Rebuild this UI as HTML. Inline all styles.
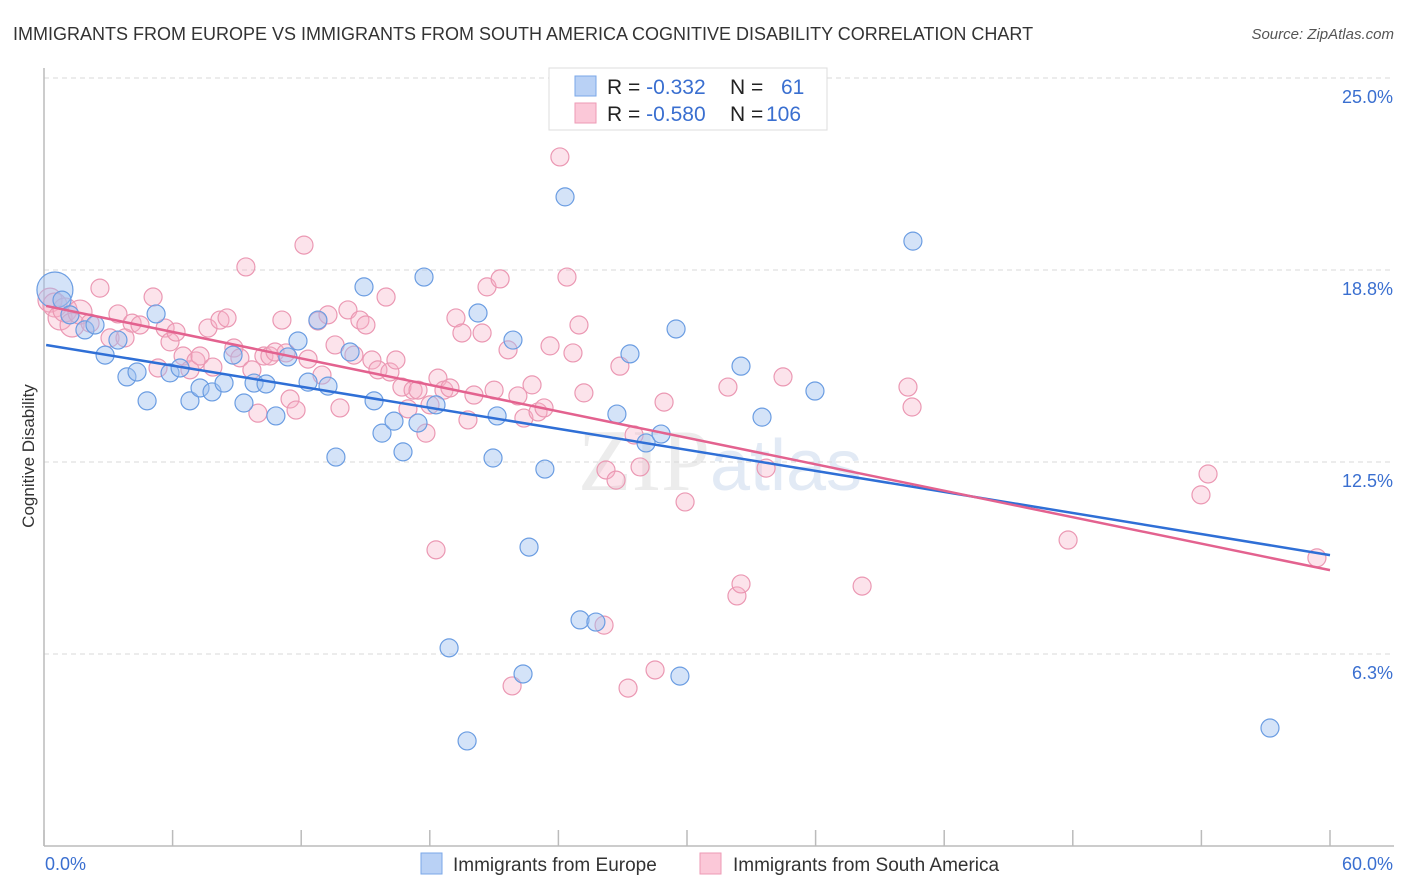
<!DOCTYPE html>
<html><head><meta charset="utf-8"><style>
body{margin:0;background:#fff;font-family:"Liberation Sans",sans-serif;}
svg{display:block}
</style></head><body>
<svg id="chart" width="1406" height="892" xmlns="http://www.w3.org/2000/svg">
<text x="13" y="40" font-size="18" fill="#333">IMMIGRANTS FROM EUROPE VS IMMIGRANTS FROM SOUTH AMERICA COGNITIVE DISABILITY CORRELATION CHART</text>
<text x="1394" y="39" font-size="15" fill="#555" text-anchor="end" font-style="italic">Source: ZipAtlas.com</text>
<text transform="translate(34,456) rotate(-90)" font-size="17" fill="#333" text-anchor="middle">Cognitive Disability</text>
<text x="720" y="490" font-size="88" text-anchor="middle" fill="#ececec" font-family="Liberation Serif, serif">ZIP<tspan fill="#e2eaf5" font-family="Liberation Sans, sans-serif" font-size="72">atlas</tspan></text>
<g id="grid"></g><g id="axes"></g><g id="pts"></g><g id="lines"></g>
<g>
<rect x="549" y="68" width="278" height="62" fill="#fff" stroke="#ddd"/>
<rect x="575" y="76" width="21" height="20" fill="#b9d1f5" stroke="#7aa7e8"/>
<rect x="575" y="103" width="21" height="20" fill="#fbc8d8" stroke="#ee9ab5"/>
<text x="607" y="94" font-size="21" fill="#222">R = <tspan fill="#3a6fd0">-0.332</tspan><tspan x="730">N =</tspan><tspan x="781" fill="#3a6fd0">61</tspan></text>
<text x="607" y="121" font-size="21" fill="#222">R = <tspan fill="#3a6fd0">-0.580</tspan><tspan x="730">N =</tspan><tspan x="766" fill="#3a6fd0">106</tspan></text>
</g>
<g>
<rect x="421" y="853" width="21" height="21" fill="#b9d1f5" stroke="#7aa7e8"/>
<text x="453" y="871" font-size="19" fill="#333">Immigrants from Europe</text>
<rect x="700" y="853" width="21" height="21" fill="#fbc8d8" stroke="#ee9ab5"/>
<text x="733" y="871" font-size="19" fill="#333">Immigrants from South America</text>
</g>
</svg>
<script>
const yTicks=[6.25,12.5,18.75,25];
const yTickLabels=["6.3%","12.5%","18.8%","25.0%"];
const xTickValues=[0,6,12,18,24,30,36,42,48,54,60];
const blueX=[0.51,0.84,1.21,1.91,2.38,2.85,3.45,3.87,4.34,4.81,5.23,5.88,6.35,6.81,7.28,7.84,8.40,8.82,9.33,9.80,10.36,10.82,11.38,11.85,12.32,12.78,13.25,13.62,14.28,14.93,15.40,15.77,16.33,16.75,17.45,17.73,18.29,18.90,19.74,20.25,20.95,21.14,21.88,22.35,22.63,23.37,24.31,25.01,25.75,26.73,27.34,28.09,28.79,29.49,29.67,31.17,32.52,33.50,35.97,40.54,57.20];
const blueY=[18.10,17.77,17.29,16.80,16.96,15.98,16.47,15.27,15.43,14.49,17.32,15.40,15.56,14.49,14.91,14.78,15.07,15.98,14.42,15.07,15.04,14.00,15.92,16.44,15.10,17.12,14.97,12.66,16.08,18.20,14.49,13.44,13.83,12.83,13.77,18.52,14.36,6.45,3.42,17.35,12.63,14.00,16.47,5.60,9.73,12.27,21.13,7.36,7.29,14.06,16.02,13.12,13.41,16.83,5.53,24.19,15.62,13.96,14.81,19.69,3.84];
const pinkX=[0.28,0.51,0.75,0.98,1.31,1.68,2.15,2.61,3.08,3.45,3.78,4.11,4.48,5.09,5.32,5.65,5.88,6.16,6.49,6.81,7.09,7.28,7.65,7.88,8.21,8.54,8.86,9.14,9.42,9.70,9.98,10.26,10.54,10.78,11.10,11.29,11.48,11.76,12.13,12.32,12.78,12.97,13.25,13.58,13.81,14.18,14.46,14.74,15.02,15.30,15.58,15.96,16.14,16.42,16.70,16.98,17.22,17.45,17.82,18.01,18.29,18.38,18.66,18.94,19.22,19.50,19.78,20.06,20.44,20.67,21.00,21.28,21.65,21.84,22.11,22.39,22.77,23.05,23.33,23.61,24.07,24.40,24.68,24.96,25.19,26.13,26.22,26.69,26.87,27.25,27.53,27.81,28.51,28.93,29.91,31.91,32.33,32.52,33.69,34.48,38.17,40.31,40.50,47.78,53.98,54.31,59.39];
const pinkY=[17.77,17.61,17.19,17.45,16.96,17.38,17.02,18.16,16.54,17.32,16.54,17.02,16.96,17.87,15.56,16.86,16.41,16.73,15.95,15.50,15.79,15.95,16.86,15.59,17.12,17.19,16.21,15.89,18.85,15.50,14.09,15.95,15.95,16.08,17.12,16.05,14.55,14.19,19.56,15.85,17.09,15.33,17.29,16.31,14.26,17.45,15.98,17.12,16.96,15.82,15.50,17.87,15.43,15.82,14.94,14.23,14.84,14.84,13.44,14.36,9.64,15.23,14.84,14.91,17.19,16.70,13.87,14.68,16.70,18.20,14.84,18.46,16.15,5.21,14.65,13.93,15.01,14.13,14.26,16.28,22.43,18.52,16.05,16.96,14.75,7.19,12.24,11.91,15.62,5.14,13.38,12.34,5.73,14.45,11.20,14.94,8.14,8.53,12.30,15.27,8.46,14.94,14.29,9.96,11.43,12.11,9.38];
const blueTrend=[16.31,9.47];
const pinkTrend=[17.58,8.98];
const NS="http://www.w3.org/2000/svg";
const X0=44,X1=1330,Y0=846,YTOP=78;
const sx=v=>X0+(v/60)*(X1-X0);
const sy=v=>Y0-(v/25)*(Y0-YTOP);
function mk(tag,attrs,parent){const e=document.createElementNS(NS,tag);for(const k in attrs)e.setAttribute(k,attrs[k]);parent.appendChild(e);return e;}
const grid=document.getElementById('grid'),axes=document.getElementById('axes'),pts=document.getElementById('pts'),lines=document.getElementById('lines');
yTicks.forEach((t,i)=>{
  const l=mk('line',{x1:X0,x2:1394,y1:sy(t),y2:sy(t),stroke:'#d8d8d8','stroke-dasharray':'5,4'},grid);
  
  
  const tx=mk('text',{x:1393,y:sy(t)+25,'font-size':18,fill:'#3a6fd0','text-anchor':'end'},grid);
  tx.textContent=yTickLabels[i];
  
  
});
let a=mk('line',{x1:X0,x2:X0,y1:68,y2:Y0,stroke:'#bbb','stroke-width':1.5},axes);


a=mk('line',{x1:X0,x2:1394,y1:Y0,y2:Y0,stroke:'#bbb','stroke-width':1.5},axes);


xTickValues.forEach(v=>{
  const t=mk('line',{x1:sx(v),x2:sx(v),y1:Y0-16,y2:Y0,stroke:'#bbb','stroke-width':1.5},axes);
  
  
});
[[0,'0.0%','start',45],[60,'60.0%','end',1393]].forEach(d=>{
  const t=mk('text',{x:d[3],y:870,'font-size':18,fill:'#3a6fd0','text-anchor':d[2]},axes);
  t.textContent=d[1];
  
  
});
function series(xs,ys,fill,stroke,name){
  xs.forEach((x,i)=>{
    let r=9;
    if(i===0&&name==='europe-point')r=18;
    else if(i<6&&name==='south-america-point')r=12;
    const c=mk('circle',{cx:sx(x),cy:sy(ys[i]),r:r,fill:fill,stroke:stroke,'stroke-width':1.2},pts);
    
    
  });
}
series(pinkX,pinkY,'rgba(246,176,198,0.35)','#eb98b3','south-america-point');
series(blueX,blueY,'rgba(160,192,240,0.45)','#6b9de2','europe-point');
let ln=mk('line',{x1:sx(0.1),y1:sy(blueTrend[0]),x2:sx(60),y2:sy(blueTrend[1]),stroke:'#2f6fd6','stroke-width':2.5},lines);


ln=mk('line',{x1:sx(0.1),y1:sy(pinkTrend[0]),x2:sx(60),y2:sy(pinkTrend[1]),stroke:'#e3628f','stroke-width':2.5},lines);


</script>
</body></html>
